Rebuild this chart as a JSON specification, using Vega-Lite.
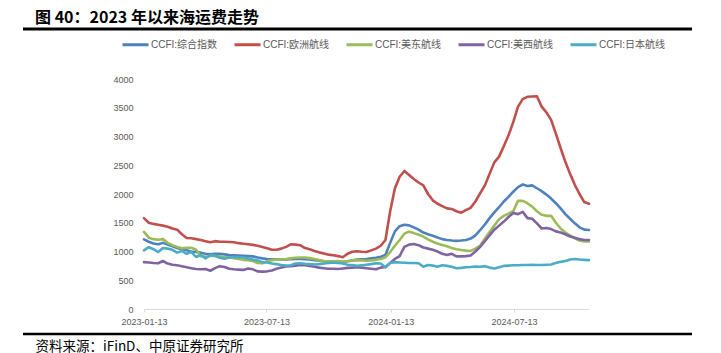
{
  "$schema": "https://vega.github.io/schema/vega-lite/v6.json",
  "autosize": "none",
  "width": 445,
  "height": 230,
  "padding": {"left": 144, "top": 79, "right": 132, "bottom": 44},
  "background": "white",
  "title": {
    "text": "图 40：2023 年以来海运费走势",
    "anchor": "start",
    "frame": "group",
    "dx": -109,
    "offset": 2,
    "font": "Noto Sans CJK SC",
    "fontSize": 16,
    "fontWeight": "bold",
    "color": "#000000"
  },
  "data": {
    "values": [
      {"d":"2023-01-13","综合指数":1210,"欧洲航线":1580,"美东航线":1340,"美西航线":815,"日本航线":1020},
      {"d":"2023-01-20","综合指数":1170,"欧洲航线":1500,"美东航线":1240,"美西航线":810,"日本航线":1075},
      {"d":"2023-01-27","综合指数":1140,"欧洲航线":1480,"美东航线":1215,"美西航线":800,"日本航线":1040},
      {"d":"2023-02-03","综合指数":1125,"欧洲航线":1465,"美东航线":1205,"美西航线":795,"日本航线":990},
      {"d":"2023-02-10","综合指数":1150,"欧洲航线":1450,"美东航线":1215,"美西航线":835,"日本航线":1060},
      {"d":"2023-02-17","综合指数":1120,"欧洲航线":1430,"美东航线":1150,"美西航线":790,"日本航线":1050},
      {"d":"2023-02-24","综合指数":1090,"欧洲航线":1400,"美东航线":1110,"美西航线":770,"日本航线":1030},
      {"d":"2023-03-03","综合指数":1060,"欧洲航线":1380,"美东航线":1080,"美西航线":760,"日本航线":980},
      {"d":"2023-03-10","综合指数":1040,"欧洲航线":1300,"美东航线":1055,"美西航线":745,"日本航线":1010},
      {"d":"2023-03-17","综合指数":1020,"欧洲航线":1235,"美东航线":1065,"美西航线":725,"日本航线":960},
      {"d":"2023-03-24","综合指数":1000,"欧洲航线":1230,"美东航线":1065,"美西航线":710,"日本航线":990},
      {"d":"2023-03-31","综合指数":990,"欧洲航线":1215,"美东航线":1030,"美西航线":695,"日本航线":905},
      {"d":"2023-04-07","综合指数":980,"欧洲航线":1200,"美东航线":920,"美西航线":690,"日本航线":940},
      {"d":"2023-04-14","综合指数":960,"欧洲航线":1180,"美东航线":910,"美西航线":695,"日本航线":880},
      {"d":"2023-04-21","综合指数":950,"欧洲航线":1160,"美东航线":925,"美西航线":665,"日本航线":935},
      {"d":"2023-04-28","综合指数":960,"欧洲航线":1180,"美东航线":920,"美西航线":710,"日本航线":930},
      {"d":"2023-05-05","综合指数":960,"欧洲航线":1170,"美东航线":915,"美西航线":745,"日本航线":890},
      {"d":"2023-05-12","综合指数":950,"欧洲航线":1170,"美东航线":905,"美西航线":730,"日本航线":875},
      {"d":"2023-05-19","综合指数":940,"欧洲航线":1165,"美东航线":900,"美西航线":700,"日本航线":895},
      {"d":"2023-05-26","综合指数":935,"欧洲航线":1160,"美东航线":885,"美西航线":690,"日本航线":905},
      {"d":"2023-06-02","综合指数":930,"欧洲航线":1145,"美东航线":870,"美西航线":685,"日本航线":900},
      {"d":"2023-06-09","综合指数":925,"欧洲航线":1135,"美东航线":855,"美西航线":680,"日本航线":895},
      {"d":"2023-06-16","综合指数":920,"欧洲航线":1125,"美东航线":850,"美西航线":705,"日本航线":880},
      {"d":"2023-06-23","综合指数":915,"欧洲航线":1115,"美东航线":835,"美西航线":690,"日本航线":860},
      {"d":"2023-06-30","综合指数":895,"欧洲航线":1100,"美东航线":800,"美西航线":655,"日本航线":845},
      {"d":"2023-07-07","综合指数":880,"欧洲航线":1080,"美东航线":795,"美西航线":650,"日本航线":815},
      {"d":"2023-07-14","综合指数":870,"欧洲航线":1055,"美东航线":830,"美西航线":655,"日本航线":810},
      {"d":"2023-07-21","综合指数":865,"欧洲航线":1030,"美东航线":850,"美西航线":670,"日本航线":790},
      {"d":"2023-07-28","综合指数":865,"欧洲航线":1030,"美东航线":860,"美西航线":700,"日本航线":780},
      {"d":"2023-08-04","综合指数":860,"欧洲航线":1050,"美东航线":865,"美西航线":720,"日本航线":765},
      {"d":"2023-08-11","综合指数":860,"欧洲航线":1080,"美东航线":870,"美西航线":740,"日本航线":755},
      {"d":"2023-08-18","综合指数":865,"欧洲航线":1125,"美东航线":880,"美西航线":745,"日本航线":760},
      {"d":"2023-08-25","综合指数":870,"欧洲航线":1120,"美东航线":890,"美西航线":755,"日本航线":790},
      {"d":"2023-09-01","综合指数":870,"欧洲航线":1110,"美东航线":895,"美西航线":765,"日本航线":795},
      {"d":"2023-09-08","综合指数":865,"欧洲航线":1060,"美东航线":895,"美西航线":760,"日本航线":785},
      {"d":"2023-09-15","综合指数":860,"欧洲航线":1040,"美东航线":885,"美西航线":750,"日本航线":780},
      {"d":"2023-09-22","综合指数":850,"欧洲航线":1010,"美东航线":870,"美西航线":735,"日本航线":775},
      {"d":"2023-09-29","综合指数":840,"欧洲航线":985,"美东航线":850,"美西航线":720,"日本航线":780},
      {"d":"2023-10-06","综合指数":830,"欧洲航线":965,"美东航线":835,"美西航线":710,"日本航线":790},
      {"d":"2023-10-13","综合指数":825,"欧洲航线":945,"美东航线":830,"美西航线":700,"日本航线":800},
      {"d":"2023-10-20","综合指数":825,"欧洲航线":935,"美东航线":825,"美西航线":700,"日本航线":810},
      {"d":"2023-10-27","综合指数":820,"欧洲航线":920,"美东航线":835,"美西航线":695,"日本航线":800},
      {"d":"2023-11-03","综合指数":820,"欧洲航线":900,"美东航线":820,"美西航线":705,"日本航线":790},
      {"d":"2023-11-10","综合指数":830,"欧洲航线":960,"美东航线":830,"美西航线":715,"日本航线":770},
      {"d":"2023-11-17","综合指数":845,"欧洲航线":995,"美东航线":845,"美西航线":720,"日本航线":765},
      {"d":"2023-11-24","综合指数":860,"欧洲航线":1005,"美东航线":850,"美西航线":725,"日本航线":750},
      {"d":"2023-12-01","综合指数":865,"欧洲航线":995,"美东航线":845,"美西航线":720,"日本航线":760},
      {"d":"2023-12-08","综合指数":870,"欧洲航线":990,"美东航线":840,"美西航线":710,"日本航线":770},
      {"d":"2023-12-15","综合指数":880,"欧洲航线":1020,"美东航线":845,"美西航线":700,"日本航线":780},
      {"d":"2023-12-22","综合指数":890,"欧洲航线":1050,"美东航线":855,"美西航线":690,"日本航线":795},
      {"d":"2023-12-29","综合指数":910,"欧洲航线":1100,"美东航线":870,"美西航线":720,"日本航线":790},
      {"d":"2024-01-05","综合指数":940,"欧洲航线":1200,"美东航线":900,"美西航线":730,"日本航线":725},
      {"d":"2024-01-12","综合指数":1150,"欧洲航线":1700,"美东航线":990,"美西航线":800,"日本航线":800},
      {"d":"2024-01-19","综合指数":1350,"欧洲航线":2100,"美东航线":1100,"美西航线":870,"日本航线":815},
      {"d":"2024-01-26","综合指数":1440,"欧洲航线":2300,"美东航线":1200,"美西航线":920,"日本航线":810},
      {"d":"2024-02-02","综合指数":1465,"欧洲航线":2400,"美东航线":1310,"美西航线":1080,"日本航线":805},
      {"d":"2024-02-09","综合指数":1455,"欧洲航线":2330,"美东航线":1345,"美西航线":1120,"日本航线":800},
      {"d":"2024-02-16","综合指数":1420,"欧洲航线":2260,"美东航线":1320,"美西航线":1130,"日本航线":800},
      {"d":"2024-02-23","综合指数":1380,"欧洲航线":2200,"美东航线":1290,"美西航线":1110,"日本航线":795},
      {"d":"2024-03-01","综合指数":1330,"欧洲航线":2150,"美东航线":1260,"美西航线":1070,"日本航线":735},
      {"d":"2024-03-08","综合指数":1300,"欧洲航线":2000,"美东航线":1210,"美西航线":1050,"日本航线":765},
      {"d":"2024-03-15","综合指数":1275,"欧洲航线":1890,"美东航线":1170,"美西航线":1030,"日本航线":755},
      {"d":"2024-03-22","综合指数":1245,"欧洲航线":1830,"美东航线":1140,"美西航线":1000,"日本航线":735},
      {"d":"2024-03-29","综合指数":1215,"欧洲航线":1790,"美东航线":1115,"美西航线":960,"日本航线":760},
      {"d":"2024-04-05","综合指数":1200,"欧洲航线":1750,"美东航线":1090,"美西航线":940,"日本航线":750},
      {"d":"2024-04-12","综合指数":1190,"欧洲航线":1740,"美东航线":1060,"美西航线":960,"日本航线":735},
      {"d":"2024-04-19","综合指数":1185,"欧洲航线":1700,"美东航线":1040,"美西航线":915,"日本航线":710},
      {"d":"2024-04-26","综合指数":1190,"欧洲航线":1675,"美东航线":1025,"美西航线":915,"日本航线":715},
      {"d":"2024-05-03","综合指数":1200,"欧洲航线":1720,"美东航线":1015,"美西航线":920,"日本航线":725},
      {"d":"2024-05-10","综合指数":1225,"欧洲航线":1760,"美东航线":1010,"美西航线":930,"日本航线":730},
      {"d":"2024-05-17","综合指数":1280,"欧洲航线":1870,"美东航线":1050,"美西航线":1000,"日本航线":740},
      {"d":"2024-05-24","综合指数":1370,"欧洲航线":2010,"美东航线":1100,"美西航线":1080,"日本航线":735},
      {"d":"2024-05-31","综合指数":1470,"欧洲航线":2150,"美东航线":1220,"美西航线":1180,"日本航线":745},
      {"d":"2024-06-07","综合指数":1580,"欧洲航线":2350,"美东航线":1340,"美西航线":1280,"日本航线":720},
      {"d":"2024-06-14","综合指数":1680,"欧洲航线":2550,"美东航线":1450,"美西航线":1380,"日本航线":705},
      {"d":"2024-06-21","综合指数":1770,"欧洲航线":2650,"美东航线":1560,"美西航线":1450,"日本航线":725},
      {"d":"2024-06-28","综合指数":1870,"欧洲航线":2830,"美东航线":1620,"美西航线":1520,"日本航线":750},
      {"d":"2024-07-05","综合指数":1950,"欧洲航线":3020,"美东航线":1660,"美西航线":1600,"日本航线":755},
      {"d":"2024-07-12","综合指数":2040,"欧洲航线":3250,"美东航线":1700,"美西航线":1670,"日本航线":760},
      {"d":"2024-07-19","综合指数":2120,"欧洲航线":3520,"美东航线":1880,"美西航线":1650,"日本航线":760},
      {"d":"2024-07-26","综合指数":2165,"欧洲航线":3650,"美东航线":1880,"美西航线":1690,"日本航线":765},
      {"d":"2024-08-02","综合指数":2140,"欧洲航线":3690,"美东航线":1840,"美西航线":1580,"日本航线":765},
      {"d":"2024-08-09","综合指数":2150,"欧洲航线":3695,"美东航线":1780,"美西航线":1570,"日本航线":770},
      {"d":"2024-08-16","综合指数":2100,"欧洲航线":3700,"美东航线":1700,"美西航线":1490,"日本航线":765},
      {"d":"2024-08-23","综合指数":2050,"欧洲航线":3520,"美东航线":1640,"美西航线":1400,"日本航线":765},
      {"d":"2024-08-30","综合指数":1990,"欧洲航线":3420,"美东航线":1620,"美西航线":1410,"日本航线":770},
      {"d":"2024-09-06","综合指数":1920,"欧洲航线":3290,"美东航线":1620,"美西航线":1390,"日本航线":775},
      {"d":"2024-09-13","综合指数":1840,"欧洲航线":3050,"美东航线":1500,"美西航线":1350,"日本航线":800},
      {"d":"2024-09-20","综合指数":1750,"欧洲航线":2800,"美东航线":1400,"美西航线":1330,"日本航线":820},
      {"d":"2024-09-27","综合指数":1650,"欧洲航线":2560,"美东航线":1330,"美西航线":1300,"日本航线":835},
      {"d":"2024-10-04","综合指数":1570,"欧洲航线":2350,"美东航线":1280,"美西航线":1260,"日本航线":860},
      {"d":"2024-10-11","综合指数":1490,"欧洲航线":2160,"美东航线":1230,"美西航线":1240,"日本航线":870},
      {"d":"2024-10-18","综合指数":1420,"欧洲航线":2000,"美东航线":1190,"美西航线":1215,"日本航线":860},
      {"d":"2024-10-25","综合指数":1380,"欧洲航线":1860,"美东航线":1175,"美西航线":1200,"日本航线":855},
      {"d":"2024-11-01","综合指数":1375,"欧洲航线":1830,"美东航线":1175,"美西航线":1200,"日本航线":850}
    ]
  },
  "layer": [
    {
      "transform": [
        {"fold": ["综合指数", "欧洲航线", "美东航线", "美西航线", "日本航线"], "as": ["series", "value"]}
      ],
      "mark": {"type": "line", "strokeWidth": 2.6, "strokeJoin": "round", "strokeCap": "round"},
      "encoding": {
        "x": {
          "field": "d",
          "type": "temporal",
          "scale": {"domain": [{"year": 2023, "month": 1, "date": 13}, {"year": 2024, "month": 11, "date": 1}]},
          "axis": {
            "values": [
              {"year": 2023, "month": 1, "date": 13},
              {"year": 2023, "month": 7, "date": 13},
              {"year": 2024, "month": 1, "date": 13},
              {"year": 2024, "month": 7, "date": 13}
            ],
            "format": "%Y-%m-%d",
            "title": "资料来源：iFinD、中原证券研究所",
            "titleX": -109,
            "titleY": 37,
            "titleAlign": "left",
            "titleAnchor": null,
            "titleBaseline": "middle",
            "titleFont": "Noto Sans CJK SC",
            "titleFontSize": 13.5,
            "titleFontWeight": "normal",
            "titleColor": "#000000",
            "grid": false,
            "domainColor": "#D9D9D9",
            "domainWidth": 1,
            "tickColor": "#D9D9D9",
            "tickSize": 3,
            "labelFont": "Liberation Sans",
            "labelFontSize": 9,
            "labelColor": "#595959",
            "labelPadding": 5,
            "labelFlush": false
          }
        },
        "y": {
          "field": "value",
          "type": "quantitative",
          "scale": {"domain": [0, 4000], "nice": false},
          "axis": {
            "values": [0, 500, 1000, 1500, 2000, 2500, 3000, 3500, 4000],
            "format": "d",
            "title": null,
            "grid": false,
            "domain": false,
            "ticks": false,
            "labelFont": "Liberation Sans",
            "labelFontSize": 9,
            "labelColor": "#595959",
            "labelPadding": 11
          }
        },
        "color": {
          "field": "series",
          "type": "nominal",
          "scale": {
            "domain": ["综合指数", "欧洲航线", "美东航线", "美西航线", "日本航线"],
            "range": ["#4F81BD", "#C0504D", "#9BBB59", "#8064A2", "#4BACC6"]
          },
          "legend": {
            "title": null,
            "orient": "none",
            "direction": "horizontal",
            "legendX": -23,
            "legendY": -49,
            "symbolType": "stroke",
            "symbolSize": 676,
            "symbolStrokeWidth": 3,
            "labelExpr": "'CCFI:' + datum.label",
            "labelFont": "Liberation Sans, Noto Sans CJK SC, sans-serif",
            "labelFontSize": 10,
            "labelColor": "#595959",
            "labelOffset": 1,
            "columnPadding": 10
          }
        }
      }
    },
    {
      "data": {"values": [{"k": "top"}]},
      "mark": {"type": "rule", "color": "#000000", "strokeWidth": 3},
      "encoding": {"x": {"value": -121}, "x2": {"value": 548}, "y": {"value": -50}}
    },
    {
      "data": {"values": [{"k": "bottom"}]},
      "mark": {"type": "rule", "color": "#000000", "strokeWidth": 2.5},
      "encoding": {"x": {"value": -121}, "x2": {"value": 548}, "y": {"value": 255}}
    }
  ],
  "config": {
    "view": {"stroke": null}
  }
}
